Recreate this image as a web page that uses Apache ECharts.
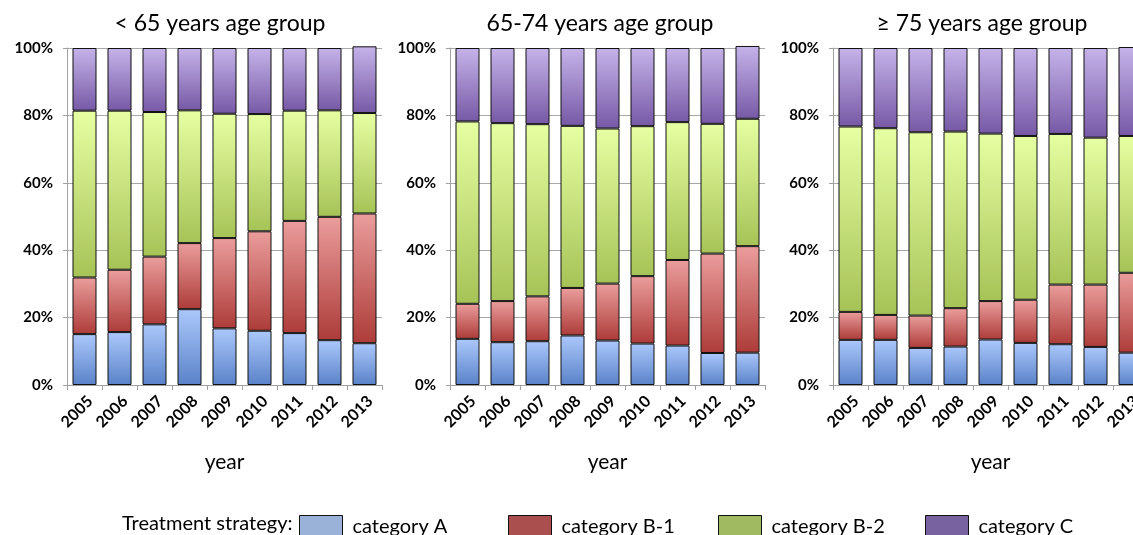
<!DOCTYPE html>
<html>
<head>
<meta charset="utf-8">
<script src="https://cdn.jsdelivr.net/npm/echarts@6/dist/echarts.min.js"></script>
<style>
html,body{margin:0;padding:0;background:#fff;}
#chart{width:1133px;height:535px;}
</style>
</head>
<body>
<div id="chart"></div>
<script>
var years = ['2005','2006','2007','2008','2009','2010','2011','2012','2013'];
var panelTitles = ['< 65 years age group', '65-74 years age group', '\u2265 75 years age group'];
var yTicks = [0, 20, 40, 60, 80, 100];

// Panel 1: < 65 years (percent shares per segment)
var p1A  = [15.1, 15.7, 18.0, 22.5, 16.8, 16.1, 15.4, 13.3, 12.4];
var p1B1 = [16.8, 18.5, 20.1, 19.6, 26.8, 29.5, 33.3, 36.6, 38.5];
var p1B2 = [49.5, 47.2, 42.9, 39.4, 36.9, 34.8, 32.7, 31.6, 29.8];
var p1C  = [18.6, 18.6, 19.0, 18.5, 19.5, 19.6, 18.6, 18.5, 19.8];

// Panel 2: 65-74 years
var p2A  = [13.7, 12.7, 13.0, 14.7, 13.2, 12.3, 11.7, 9.5, 9.6];
var p2B1 = [10.4, 12.2, 13.3, 14.1, 16.9, 20.0, 25.4, 29.5, 31.6];
var p2B2 = [54.1, 52.8, 51.1, 48.1, 46.0, 44.5, 40.9, 38.5, 37.8];
var p2C  = [21.8, 22.3, 22.6, 23.1, 23.9, 23.2, 22.0, 22.5, 21.6];

// Panel 3: >= 75 years
var p3A  = [13.4, 13.4, 11.0, 11.4, 13.5, 12.5, 12.1, 11.3, 9.6];
var p3B1 = [8.3, 7.4, 9.6, 11.4, 11.4, 12.8, 17.7, 18.5, 23.7];
var p3B2 = [55.0, 55.4, 54.4, 52.4, 49.7, 48.6, 44.7, 43.6, 40.6];
var p3C  = [23.3, 23.8, 25.0, 24.8, 25.4, 26.1, 25.5, 26.6, 26.4];

var seriesNames = ['category A', 'category B-1', 'category B-2', 'category C'];
var panels = [[p1A, p1B1, p1B2, p1C], [p2A, p2B1, p2B2, p2C], [p3A, p3B1, p3B2, p3C]];

var gradTop = ['#abc8fb', '#ea9d9c', '#e6ffa2', '#c5b3e9'];
var gradBot = ['#5a82c9', '#ad3c39', '#a6c357', '#7759a6'];
var legendColors = ['#9bb2d8', '#aa4f4d', '#9fba60', '#7862a0'];

var FONT = 'Lato';
var gridLefts = [67, 450, 833];
var titleCenters = [220, 600, 982];
var gridW = 315, gridTop = 48, gridH = 337;

var grids = [], xAxes = [], yAxes = [], series = [], titles = [];
for (var p = 0; p < 3; p++) {
  grids.push({left: gridLefts[p], top: gridTop, width: gridW, height: gridH, outerBoundsMode: 'none', containLabel: false});
  titles.push({
    text: panelTitles[p], left: titleCenters[p], top: 12, textAlign: 'center', padding: 0,
    textStyle: {fontFamily: FONT, fontSize: 23, fontWeight: 'normal', color: '#000'}
  });
  xAxes.push({
    type: 'category', gridIndex: p, data: years, boundaryGap: true,
    name: 'year', nameLocation: 'middle', nameGap: 67,
    nameTextStyle: {fontFamily: FONT, fontSize: 21, color: '#000'},
    axisLine: {lineStyle: {color: '#a0a0a0', width: 1}},
    axisTick: {show: true, length: 5, lineStyle: {color: '#a0a0a0'}},
    axisLabel: {interval: 0, rotate: 45, margin: 8, align: 'right', verticalAlign: 'top',
      fontFamily: FONT, fontSize: 16, fontWeight: 'bold', color: '#000'}
  });
  yAxes.push({
    type: 'value', gridIndex: p, min: yTicks[0], max: yTicks[yTicks.length - 1], interval: 20,
    axisLine: {show: true, lineStyle: {color: '#a0a0a0', width: 1}},
    axisTick: {show: true, length: 4, lineStyle: {color: '#a0a0a0'}},
    splitLine: {show: true, lineStyle: {color: '#a8a8a8', width: 1}},
    axisLabel: {formatter: '{value}%', margin: 14, fontFamily: FONT, fontSize: 15, fontWeight: 'bold', color: '#000'}
  });
  for (var s = 0; s < 4; s++) {
    series.push({
      name: seriesNames[s], type: 'bar', stack: 'p' + p, xAxisIndex: p, yAxisIndex: p,
      data: panels[p][s], barWidth: 24, clip: false,
      itemStyle: {
        color: {type: 'linear', x: 0, y: 0, x2: 0, y2: 1,
          colorStops: [{offset: 0, color: gradTop[s]}, {offset: 1, color: gradBot[s]}]},
        borderColor: '#111', borderWidth: 1
      },
      emphasis: {disabled: true}
    });
  }
}

titles.push({
  text: 'Treatment strategy:', left: 122, top: 514, padding: 0,
  textStyle: {fontFamily: FONT, fontSize: 20, fontWeight: 'normal', color: '#000'}
});

var legendLefts = [299, 508, 718, 925];
var legends = seriesNames.map(function (n, i) {
  return {
    left: legendLefts[i], top: 515, itemWidth: 43, itemHeight: 22, itemGap: 0, padding: 0,
    selectedMode: false,
    data: [{name: n, icon: 'rect', itemStyle: {color: legendColors[i], borderColor: '#111', borderWidth: 1}}],
    textStyle: {fontFamily: FONT, fontSize: 20, color: '#000', padding: [0, 0, 0, 5]}
  };
});

var chart = echarts.init(document.getElementById('chart'), null, {renderer: 'canvas'});
chart.setOption({
  backgroundColor: '#fff',
  animation: false,
  title: titles,
  legend: legends,
  grid: grids,
  xAxis: xAxes,
  yAxis: yAxes,
  series: series
});
</script>
</body>
</html>
